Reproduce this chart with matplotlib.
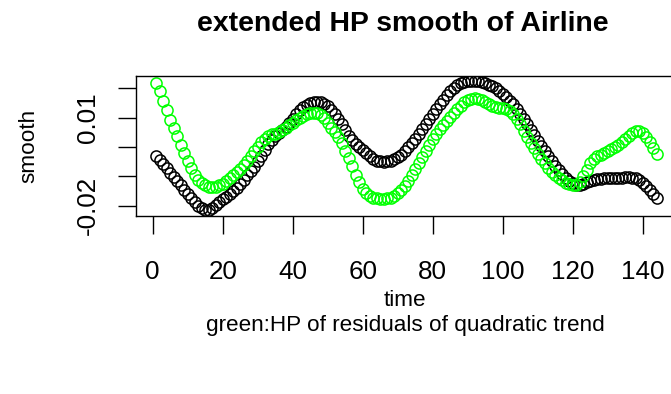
import numpy as np
import matplotlib
matplotlib.use("Agg")
import matplotlib.pyplot as plt

plt.rcParams['font.family'] = ['Liberation Sans', 'DejaVu Sans']

# HP smooth of the series (black) and HP of residuals of quadratic trend (green)
smooth_black = [
    -0.0031, -0.0045, -0.0059, -0.0073, -0.0087, -0.0101, -0.0116, -0.0131, -0.0146, -0.0160,
    -0.0175, -0.0188, -0.0200, -0.0209, -0.0214, -0.0214, -0.0208, -0.0198, -0.0187, -0.0178,
    -0.0169, -0.0160, -0.0151, -0.0141, -0.0127, -0.0112, -0.0097, -0.0082, -0.0067, -0.0048,
    -0.0029, -0.0010, 0.0009, 0.0024, 0.0036, 0.0047, 0.0058, 0.0069, 0.0083, 0.0097,
    0.0111, 0.0125, 0.0136, 0.0144, 0.0150, 0.0153, 0.0154, 0.0152, 0.0147, 0.0139,
    0.0127, 0.0113, 0.0096, 0.0077, 0.0058, 0.0038, 0.0025, 0.0012, 0.0001, -0.0010,
    -0.0022, -0.0032, -0.0040, -0.0046, -0.0049, -0.0050, -0.0049, -0.0046, -0.0041, -0.0035,
    -0.0027, -0.0014, 0.0000, 0.0014, 0.0029, 0.0044, 0.0061, 0.0078, 0.0095, 0.0112,
    0.0128, 0.0145, 0.0161, 0.0177, 0.0191, 0.0201, 0.0210, 0.0217, 0.0222, 0.0225,
    0.0226, 0.0226, 0.0225, 0.0222, 0.0218, 0.0213, 0.0207, 0.0200, 0.0191, 0.0181,
    0.0170, 0.0158, 0.0145, 0.0129, 0.0112, 0.0095, 0.0077, 0.0059, 0.0040, 0.0022,
    0.0004, -0.0015, -0.0032, -0.0048, -0.0063, -0.0078, -0.0092, -0.0105, -0.0116, -0.0124,
    -0.0128, -0.0128, -0.0125, -0.0120, -0.0115, -0.0111, -0.0109, -0.0108, -0.0107, -0.0107,
    -0.0106, -0.0106, -0.0105, -0.0104, -0.0103, -0.0103, -0.0104, -0.0107, -0.0113, -0.0121,
    -0.0132, -0.0145, -0.0160, -0.0174,
]

smooth_green = [
    0.0219, 0.0190, 0.0158, 0.0125, 0.0093, 0.0064, 0.0036, 0.0008, -0.0020, -0.0047,
    -0.0072, -0.0094, -0.0111, -0.0123, -0.0131, -0.0135, -0.0136, -0.0135, -0.0131, -0.0125,
    -0.0117, -0.0107, -0.0096, -0.0085, -0.0074, -0.0062, -0.0048, -0.0032, -0.0015, 0.0001,
    0.0016, 0.0029, 0.0038, 0.0043, 0.0046, 0.0050, 0.0057, 0.0066, 0.0075, 0.0083,
    0.0091, 0.0099, 0.0106, 0.0112, 0.0116, 0.0117, 0.0116, 0.0110, 0.0098, 0.0082,
    0.0066, 0.0052, 0.0035, 0.0013, -0.0012, -0.0038, -0.0065, -0.0094, -0.0120, -0.0142,
    -0.0157, -0.0166, -0.0172, -0.0175, -0.0176, -0.0176, -0.0175, -0.0172, -0.0166, -0.0157,
    -0.0146, -0.0133, -0.0116, -0.0097, -0.0076, -0.0055, -0.0034, -0.0013, 0.0008, 0.0029,
    0.0046, 0.0061, 0.0075, 0.0089, 0.0102, 0.0115, 0.0128, 0.0141, 0.0153, 0.0161,
    0.0165, 0.0166, 0.0165, 0.0160, 0.0153, 0.0145, 0.0139, 0.0135, 0.0134, 0.0133,
    0.0131, 0.0124, 0.0112, 0.0096, 0.0077, 0.0055, 0.0033, 0.0013, -0.0005, -0.0023,
    -0.0040, -0.0056, -0.0071, -0.0084, -0.0095, -0.0105, -0.0113, -0.0121, -0.0127, -0.0131,
    -0.0129, -0.0118, -0.0100, -0.0078, -0.0056, -0.0040, -0.0031, -0.0026, -0.0021, -0.0015,
    -0.0008, 0.0000, 0.0008, 0.0018, 0.0028, 0.0039, 0.0049, 0.0055, 0.0055, 0.0047,
    0.0033, 0.0016, -0.0003, -0.0024,
]

time = np.arange(1, len(smooth_black) + 1)

x_ticks = [0, 20, 40, 60, 80, 100, 120, 140]
y_ticks = [-0.02, -0.01, 0.0, 0.01, 0.02]
y_ticklabels = ["-0.02", "", "", "0.01", ""]

W, H = 671, 394
fig = plt.figure(figsize=(W / 100, H / 100), dpi=100)

# plot box in pixels (R-style, right edge runs past the picture)
left, right, top, bottom = 136.2, 676.7, 76.0, 215.7
ax = fig.add_axes([left / W, 1 - bottom / H, (right - left) / W, (bottom - top) / H])

ax.plot(time, smooth_black, ls="none", marker="o", ms=8.0, mfc="none",
        mec="black", mew=1.1)
ax.plot(time, smooth_green, ls="none", marker="o", ms=8.0, mfc="none",
        mec="#00FF00", mew=1.1)

ax.set_xlim(-4.72, 149.72)
ax.set_ylim(-0.0234, 0.0242)

ax.set_xticks(x_ticks)
ax.set_xticklabels([str(v) for v in x_ticks], fontsize=18.7)
ax.set_yticks(y_ticks)
ax.set_yticklabels(y_ticklabels, fontsize=18.7, rotation=90, va="center")

ax.tick_params(direction="out", length=13, width=1.0, color="black")
ax.tick_params(axis="x", pad=19)
ax.tick_params(axis="y", pad=13)
for s in ax.spines.values():
    s.set_linewidth(1.0)
    s.set_color("black")

fig.text(403 / W, 1 - 31 / H, "extended HP smooth of Airline", ha="center",
         va="baseline", fontsize=20.4, fontweight="bold")
fig.text(29 / W, 1 - (top + bottom) / 2 / H, "smooth", rotation=90,
         ha="center", va="center", fontsize=16.2)
fig.text(405 / W, 1 - 301 / H, "time", ha="center", va="center", fontsize=16.2)
fig.text(405 / W, 1 - 326 / H, "green:HP of residuals of quadratic trend",
         ha="center", va="center", fontsize=16.2)

fig.savefig("out.png", dpi=100)
